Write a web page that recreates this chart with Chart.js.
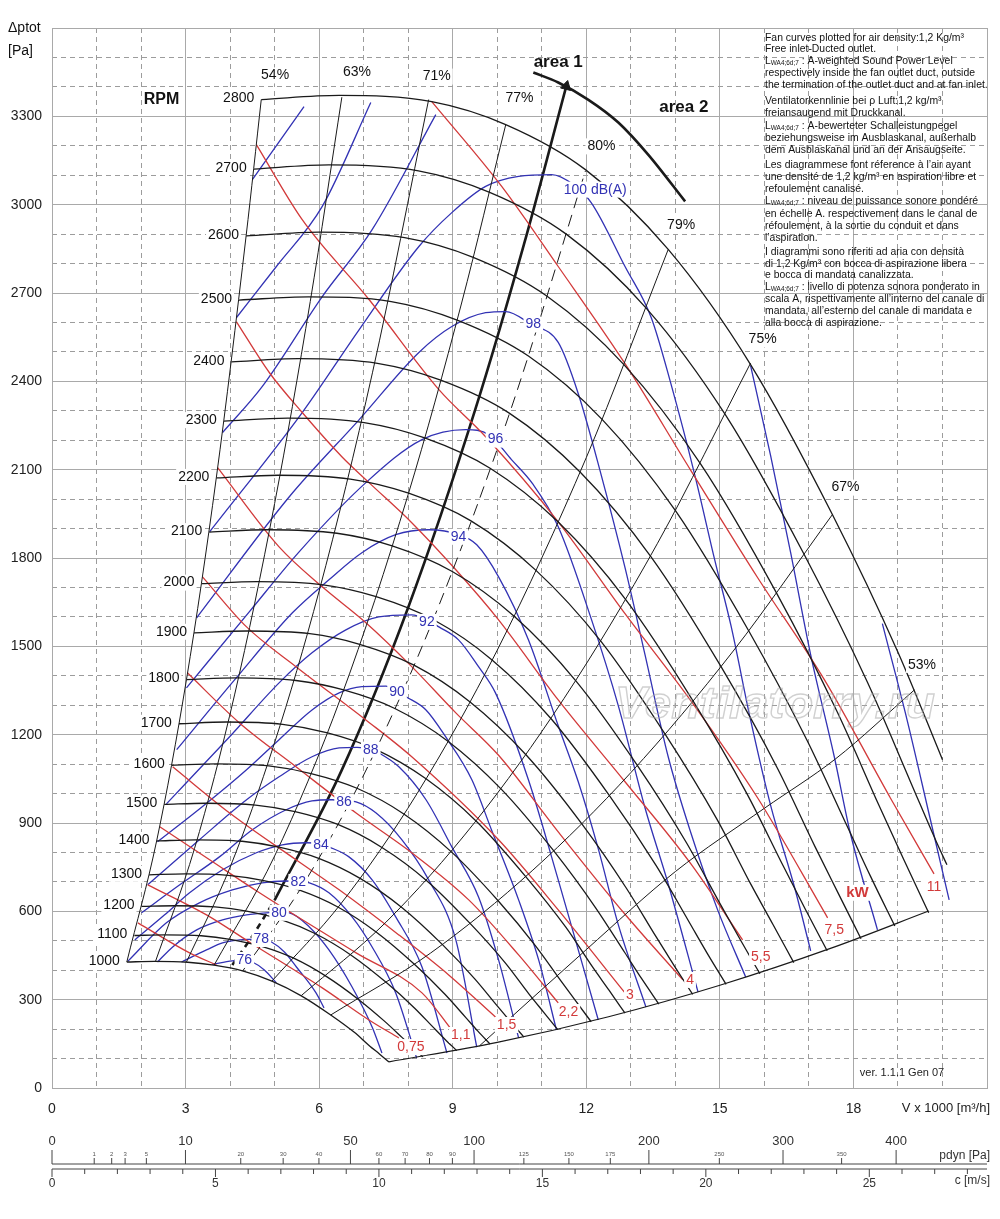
<!DOCTYPE html>
<html><head><meta charset="utf-8">
<script src="https://cdn.jsdelivr.net/npm/chart.js@4.4.1/dist/chart.umd.min.js"></script>
<style>html,body{margin:0;padding:0;background:#fff;}#wrap{width:1000px;height:1219px;position:relative;}</style>
</head><body><div id="wrap"><canvas id="c"></canvas></div>
<script>
// ---------- axis data ----------
const xTickLabels = [0,3,6,9,12,15,18];
const yTickLabels = [0,300,600,900,1200,1500,1800,2100,2400,2700,3000,3300];
const cTickLabels = [0,5,10,15,20,25];
const pdynMajor = [0,10,50,100,200,300,400];
const pdynMinor = [1,2,3,5,20,30,40,60,70,80,90,125,150,175,250,350];

// ---------- RPM curves (V x1000 m3/h, Pa) ----------
const rpmLevels = [1000,1100,1200,1300,1400,1500,1600,1700,1800,1900,2000,2100,2200,2300,2400,2500,2600,2700,2800];
const rpmX = [
 [1.68,2.30,3.05,3.64,4.28,4.94,5.60,6.26,6.79,7.14,7.36,7.57],
 [1.85,2.53,3.35,4.00,4.71,5.44,6.16,6.89,7.46,7.86,8.09,8.33],
 [2.01,2.76,3.66,4.37,5.13,5.93,6.72,7.51,8.14,8.57,8.83,9.09],
 [2.18,2.99,3.96,4.73,5.56,6.43,7.28,8.14,8.82,9.29,9.56,9.84],
 [2.35,3.23,4.27,5.10,5.99,6.92,7.85,8.77,9.50,10.00,10.30,10.60],
 [2.52,3.46,4.57,5.46,6.42,7.41,8.41,9.39,10.18,10.71,11.04,11.36],
 [2.69,3.69,4.87,5.82,6.85,7.91,8.97,10.02,10.86,11.43,11.77,12.11],
 [2.85,3.92,5.18,6.19,7.27,8.40,9.53,10.64,11.54,12.14,12.51,12.87],
 [3.02,4.15,5.48,6.55,7.70,8.90,10.09,11.27,12.21,12.86,13.24,13.63],
 [3.19,4.38,5.79,6.91,8.13,9.39,10.65,11.90,12.89,13.57,13.98,14.39],
 [3.36,4.61,6.09,7.28,8.56,9.89,11.21,12.52,13.57,14.29,14.71,15.14],
 [3.53,4.84,6.40,7.64,8.99,10.38,11.77,13.15,14.25,15.00,15.45,15.90],
 [3.69,5.07,6.70,8.01,9.41,10.87,12.33,13.77,14.93,15.71,16.19,16.66],
 [3.86,5.30,7.01,8.37,9.84,11.37,12.89,14.40,15.61,16.43,16.92,17.41],
 [4.03,5.53,7.31,8.73,10.27,11.86,13.45,15.03,16.29,17.14,17.66,18.17],
 [4.20,5.76,7.62,9.10,10.70,12.36,14.01,15.65,16.96,17.86,18.39,18.93],
 [4.36,5.99,7.92,9.46,11.12,12.85,14.57,16.28,17.64,18.57,19.13,19.69],
 [4.53,6.22,8.23,9.83,11.55,13.35,15.13,16.90,18.32,19.29,19.86,20.10],
 [4.70,6.45,8.53,10.19,11.98,13.84,15.69,17.53,19.00,20.00]
];
const rpmY = [
 [428,430,427,417,398,363,313,248,189,142,115,88],
 [518,520,517,505,481,440,379,300,228,172,139,106],
 [617,619,615,601,573,523,451,358,272,205,165,127],
 [724,727,722,705,672,614,530,420,319,240,194,149],
 [839,843,838,818,780,712,614,487,370,279,225,173],
 [963,967,961,939,895,817,705,559,425,320,258,198],
 [1096,1101,1094,1068,1018,930,802,636,483,364,294,225],
 [1237,1243,1235,1206,1150,1050,906,718,546,411,332,254],
 [1387,1393,1384,1352,1289,1177,1015,805,612,461,372,285],
 [1546,1552,1543,1507,1436,1311,1131,897,681,513,414,318],
 [1713,1720,1709,1669,1591,1453,1254,993,755,569,459,352],
 [1888,1896,1884,1841,1754,1602,1382,1095,833,627,506,388],
 [2072,2081,2068,2020,1926,1758,1517,1202,914,688,556,426],
 [2265,2275,2260,2208,2105,1922,1658,1314,999,752,607,466],
 [2466,2477,2461,2404,2292,2092,1805,1430,1087,819,661,507],
 [2676,2687,2671,2608,2486,2270,1959,1552,1180,889,717,550],
 [2894,2907,2888,2821,2689,2456,2119,1679,1276,961,776,595],
 [3121,3135,3115,3042,2900,2648,2285,1810,1376,1037,837,758],
 [3357,3371,3350,3272,3119,2848,2457,1947,1480,1115]
];

// ---------- efficiency lines ----------
const effNames = ['54%','63%','71%','77%','80%','79%','75%','67%','53%'];
const effX = [
 [1.68,2.35,3.02,3.69,4.36,4.70],
 [2.32,3.2,4.1,5.0,5.8,6.51],
 [3.02,4.0,5.0,6.0,7.2,8.46],
 [3.64,5.0,6.5,8.0,9.2,10.19],
 [4.28,5.6,7.0,8.6,10.3,11.98],
 [4.94,6.5,8.2,10.0,12.0,13.84],
 [5.60,7.5,9.5,11.5,13.6,15.69],
 [6.26,8.5,10.8,13.0,15.3,17.53],
 [9.6,12.0,14.0,16.0,17.6,19.37]
];
const effY = [
 [428,839,1387,2072,2894,3357],
 [428,813,1335,1985,2671,3365],
 [428,750,1173,1688,2431,3357],
 [417,788,1331,2016,2666,3271],
 [397,681,1063,1605,2302,3114],
 [363,628,1000,1487,2141,2848],
 [314,563,903,1323,1850,2462],
 [248,458,740,1071,1484,1948],
 [143,470,735,950,1118,1352]
];
const effLabelX = [5.01,6.85,8.64,10.50,12.34,14.13,15.96,17.82,19.54];
const effLabelY = [3439,3449,3435,3361,3198,2932,2542,2039,1437];

// lower boundary
const boundaryX = [7.57,10.0,12.5,15.0,17.5,19.69];
const boundaryY = [89,155,242,349,475,601];

// area 1 / area 2 line
const areaDashX = [4.05,4.5,5.0];
const areaDashY = [418,516,638];
const areaLineX = [5.0,6.5,8.0,9.5,10.6,11.55];
const areaLineY = [638,1077,1632,2301,2865,3402];
const areaArcX = [10.81,11.37,12.04,12.72,13.39,14.22];
const areaArcY = [3449,3415,3357,3279,3170,3011];

// ---------- sound power curves dB(A) ----------
const dbNames = ['76','78','80','82','84','86','88','90','92','94','96','98','100','102','102','104','104','106'];
const dbX = [
 [3.60,4.05,4.32,4.50,4.77,5.04],
 [2.91,3.47,3.83,4.21,4.43,4.70,4.93,5.22,5.49,5.93,6.11],
 [2.37,2.71,3.25,3.83,4.37,4.81,5.10,5.33,5.78,6.22,6.74,7.19,7.41],
 [1.70,2.57,3.31,4.05,4.72,5.26,5.53,5.78,6.22,6.74,7.19,7.72,8.19],
 [1.86,2.53,3.09,3.83,4.59,5.17,5.71,6.04,6.22,6.67,7.19,7.72,8.31,8.87],
 [2.01,2.87,3.76,4.50,5.26,5.84,6.29,6.56,6.83,7.28,7.86,8.46,9.07,9.54],
 [2.15,3.31,4.37,5.10,5.84,6.45,6.85,7.16,7.34,7.79,8.40,8.98,9.58,10.03,10.48],
 [2.37,3.43,4.37,5.10,5.84,6.45,6.96,7.50,7.72,7.95,8.40,8.84,9.43,9.87,10.48,10.93,11.33],
 [2.57,3.99,5.10,5.84,6.60,7.34,8.08,8.42,8.69,9.13,9.58,9.96,10.70,11.37,11.82,12.27],
 [2.80,4.10,5.40,6.22,6.96,7.72,8.46,9.13,9.54,10.03,10.70,11.37,11.82,12.27,12.72,13.34],
 [3.02,4.43,5.55,7.05,8.31,9.29,9.81,10.32,10.81,11.37,12.11,12.72,13.32,13.84,14.51],
 [3.25,5.33,6.90,8.24,8.98,9.74,10.19,10.77,11.37,11.82,12.34,12.87,13.32,13.84,14.35,14.95,15.58],
 [3.54,5.62,6.90,8.24,8.98,9.74,10.48,11.22,11.71,12.11,12.87,13.46,13.90,14.44,14.89,15.25,15.69,16.14,16.68,17.04],
 [3.83,4.72,6.07,7.19,8.62],
 [15.69,16.14,16.59,17.04,17.57,17.93,18.54],
 [4.14,5.04,6.07,7.16],
 [18.65,19.21,19.72,20.15],
 [4.50,5.66]
];
const dbY = [
 [420,432,435,428,401,357],
 [428,469,493,503,505,506,496,462,411,323,272],
 [428,479,537,571,588,595,597,595,547,469,343,207,119],
 [430,561,629,673,697,703,702,697,663,581,479,323,102],
 [503,588,663,741,799,826,833,830,819,785,707,581,411,119],
 [595,690,785,877,945,975,979,976,972,934,843,707,503,139],
 [690,843,979,1057,1125,1155,1157,1150,1138,1091,979,819,649,435,170],
 [836,962,1081,1183,1284,1342,1363,1365,1350,1329,1284,1193,1047,877,639,435,197],
 [965,1193,1376,1478,1556,1600,1607,1590,1566,1522,1431,1342,1047,707,469,231],
 [1149,1386,1614,1726,1818,1879,1896,1880,1845,1736,1522,1230,1040,812,554,275],
 [1359,1617,1821,2056,2202,2236,2219,2134,2049,1906,1594,1298,951,693,326],
 [1597,2008,2270,2498,2586,2633,2637,2593,2532,2358,2079,1767,1471,1125,866,605,377],
 [1889,2294,2576,2858,2973,3062,3096,3102,3068,3007,2790,2616,2392,2080,1790,1570,1250,960,680,466],
 [2226,2382,2688,2915,3306],
 [2453,2148,1818,1471,1125,866,537],
 [2616,2790,2994,3347],
 [1577,1247,917,639],
 [3085,3333]
];
const dbLabelText = ['76','78','80','82','84','86','88','90','92','94','96','98','100 dB(A)'];
const dbLabelX = [4.32,4.70,5.10,5.53,6.04,6.56,7.16,7.75,8.42,9.13,9.96,10.81,12.20];
const dbLabelY = [435,506,595,700,826,972,1149,1346,1583,1872,2202,2593,3051];

// ---------- absorbed power kW ----------
const kwNames = ['0,55','0,75','1,1','1,5','2,2','3','4','5,5','7,5','11'];
const kwX = [
 [1.93,3.09,3.69],
 [2.15,3.47,4.43,6.07,7.12,7.79],
 [2.42,3.54,4.66,5.55,6.83,8.31,8.98],
 [2.71,3.99,5.48,6.45,7.79,8.91,9.96],
 [3.04,4.21,5.48,6.83,8.08,9.36,10.48,11.37],
 [3.38,4.37,5.48,7.05,8.08,10.03,11.37,12.87],
 [3.72,5.10,6.07,7.05,8.08,9.07,10.03,11.37,12.87,14.17],
 [4.14,4.88,5.62,6.51,7.12,8.08,9.07,10.03,11.37,12.87,14.35,15.51],
 [4.59,5.62,7.12,8.69,9.74,11.37,12.87,14.35,15.85,17.42],
 [8.53,10.10,11.37,12.87,14.35,15.85,17.35,18.83,19.81]
];
const kwY = [
 [561,459,418],
 [690,588,496,340,231,170],
 [887,775,663,578,459,323,197],
 [1091,934,775,673,520,384,241],
 [1410,1240,1091,934,799,639,452,289],
 [1736,1566,1431,1250,1125,843,605,323],
 [2107,1838,1702,1580,1431,1274,1130,870,590,367],
 [2603,2430,2294,2144,2056,1920,1760,1590,1318,1040,761,503],
 [3204,2949,2678,2372,2212,1923,1611,1315,985,578],
 [3350,3062,2790,2460,2097,1733,1386,985,727]
];
const kwLabelText = ['0,75','1,1','1,5','2,2','3','4','5,5','7,5','11'];
const kwLabelX = [8.06,9.18,10.21,11.60,12.98,14.33,15.92,17.57,19.81];
const kwLabelY = [139,180,214,258,316,367,445,537,683];

// ---------- notes ----------
const notes = [
 ['Fan curves plotted for air density:1,2 Kg/m³',38],
 ['Free inlet-Ducted outlet.',49],
 ['L|WA4;6d;7| : A-weighted Sound Power Level',61],
 ['respectively inside the fan outlet duct, outside',73],
 ['the termination of the outlet duct and at fan inlet.',85],
 ['Ventilatorkennlinie bei ρ Luft:1,2 kg/m³',101],
 ['freiansaugend mit Druckkanal.',113],
 ['L|WA4;6d;7| : A-bewerteter Schalleistungpegel',126],
 ['beziehungsweise im Ausblaskanal, außerhalb',138],
 ['dem Ausblaskanal und an der Ansaugseite.',150],
 ['Les diagrammese font réference à l’air ayant',165],
 ['une densité de 1,2 kg/m³ en aspiration libre et',177],
 ['refoulement canalisé.',189],
 ['L|WA4;6d;7| : niveau de puissance sonore pondéré',201],
 ['en échelle A. respectivement dans le canal de',214],
 ['réfoulement, à la sortie du conduit et dans',226],
 ['l’aspiration.',238],
 ['I diagrammi sono riferiti ad aria con densità',252],
 ['di 1,2 Kg/m³ con bocca di aspirazione libera',264],
 ['e bocca di mandata canalizzata.',275],
 ['L|WA4;6d;7| : livello di potenza sonora ponderato in',287],
 ['scala A, rispettivamente all’interno del canale di',299],
 ['mandata, all’esterno del canale di mandata e',311],
 ['alla bocca di aspirazione.',323]
];

// ---------- styling ----------
const BLACK = '#1a1a1a', BLUE = '#3232b4', RED = '#d23a3a';
const FONT = '"Liberation Sans", Arial, Helvetica, sans-serif';
Chart.defaults.font.family = FONT;

function pts(xs, ys){ return xs.map((x,i)=>({x:x, y:ys[i]})); }
const datasets = [];
function line(xs, ys, color, width, dash){
  datasets.push({data: pts(xs,ys), borderColor: color, borderWidth: width, borderDash: dash||[], pointRadius:0, fill:false, cubicInterpolationMode:'monotone', showLine:true});
}
effNames.forEach((n,i)=> line(effX[i], effY[i], BLACK, 1.0, n==='80%'?[12,7]:[]));
rpmLevels.forEach((n,i)=> line(rpmX[i], rpmY[i], BLACK, 1.3));
line(boundaryX, boundaryY, BLACK, 1.2);
kwNames.forEach((n,i)=> line(kwX[i], kwY[i], RED, 1.3));
dbNames.forEach((n,i)=> line(dbX[i], dbY[i], BLUE, 1.3));
line(areaDashX, areaDashY, BLACK, 2.6, [6,5]);
line(areaLineX, areaLineY, BLACK, 2.6);
line(areaArcX, areaArcY, BLACK, 2.6);
datasets.push({data:[{x:areaLineX[areaLineX.length-1], y:areaLineY[areaLineY.length-1]}], showLine:false, pointStyle:'triangle', pointRadius:6, rotation:14, backgroundColor:BLACK, borderColor:BLACK, borderWidth:1});

function drawText(ctx, s, x, y, o){
  ctx.save();
  ctx.font = o.font; ctx.textAlign = o.align||'center'; ctx.textBaseline='middle';
  if (o.bg){
    const w = ctx.measureText(s).width;
    const lx = o.align==='left' ? x : (o.align==='right' ? x-w : x-w/2);
    ctx.fillStyle='#fff'; ctx.fillRect(lx-2, y-8, w+4, 16);
  }
  ctx.fillStyle = o.color||'#111';
  ctx.fillText(s, x, y);
  ctx.restore();
}

const labelPlugin = {
  id:'labels',
  afterDatasetsDraw(chart){
    const ctx = chart.ctx, sx = chart.scales.x, sy = chart.scales.y;
    const X = v=>sx.getPixelForValue(v), Y = v=>sy.getPixelForValue(v);
    // watermark
    ctx.save();
    ctx.font = 'italic bold 44px ' + FONT;
    const wm = 'Ventilatorry.ru';
    const ww = ctx.measureText(wm).width;
    ctx.translate(775, 706); ctx.scale(320/ww, 1);
    ctx.textAlign='center'; ctx.textBaseline='middle';
    ctx.strokeStyle='rgba(170,170,170,0.55)'; ctx.lineWidth=1.3;
    ctx.strokeText(wm, 0, 0);
    ctx.restore();
    // dB labels
    dbLabelText.forEach((t,i)=> drawText(ctx, t, X(dbLabelX[i]), Y(dbLabelY[i]), {font:'14px '+FONT, color:BLUE, bg:true}));
    // kW labels
    kwLabelText.forEach((t,i)=> drawText(ctx, t, X(kwLabelX[i]), Y(kwLabelY[i]), {font:'14px '+FONT, color:RED, bg:true}));
    drawText(ctx, 'kW', X(18.09), Y(663), {font:'bold 15px '+FONT, color:RED, bg:true});
    // efficiency labels
    effNames.forEach((t,i)=> drawText(ctx, t, X(effLabelX[i]), Y(effLabelY[i]), {font:'14px '+FONT, color:'#111', bg:true}));
    // rpm labels
    rpmLevels.forEach((n,i)=> drawText(ctx, String(n), X(rpmX[i][0])-7, Y(rpmY[i][0])-1, {font:'14px '+FONT, color:'#111', align:'right', bg:true}));
    drawText(ctx, 'RPM', X(2.46), Y(3357), {font:'bold 16px '+FONT, color:'#111'});
    drawText(ctx, 'area 1', X(11.37), Y(3483), {font:'bold 17px '+FONT, color:'#111'});
    drawText(ctx, 'area 2', X(14.19), Y(3330), {font:'bold 17px '+FONT, color:'#111'});
  },
  afterDraw(chart){
    const ctx = chart.ctx;
    const ca = chart.chartArea;
    // axis titles
    drawText(ctx, 'Δptot', 8, 28, {font:'14px '+FONT, align:'left'});
    drawText(ctx, '[Pa]', 8, 51, {font:'14px '+FONT, align:'left'});
    drawText(ctx, 'V x 1000 [m³/h]', 990, 1108, {font:'13px '+FONT, align:'right', color:'#222'});
    drawText(ctx, 'ver. 1.1.1 Gen 07', 902, 1073, {font:'11px '+FONT, color:'#222'});
    // notes
    ctx.save();
    ctx.font = '10px '+FONT;
    const ref = ctx.measureText('the termination of the outlet duct and at fan inlet.').width;
    const fs = 10*223/ref;
    notes.forEach(([s,y])=>{
      let x = 765;
      ctx.textBaseline='middle'; ctx.textAlign='left'; ctx.fillStyle='#111';
      if (s.startsWith('L|')){
        const parts = s.split('|');
        ctx.font = fs+'px '+FONT; ctx.fillText('L', x, y); x += ctx.measureText('L').width;
        ctx.font = (fs*0.62)+'px '+FONT; ctx.fillText(parts[1], x, y+2.5); x += ctx.measureText(parts[1]).width;
        ctx.font = fs+'px '+FONT; ctx.fillText(parts[2], x, y);
      } else {
        ctx.font = fs+'px '+FONT; ctx.fillText(s, x, y);
      }
    });
    ctx.restore();
    // lower scales: dynamic pressure and outlet velocity
    const sc = chart.scales.xc;
    const CX = c => sc ? sc.getPixelForValue(c) : ca.left + c/28.6*(ca.right-ca.left);
    const pToC = p => Math.sqrt(p/0.6);
    ctx.save();
    ctx.strokeStyle='#444'; ctx.lineWidth=1;
    const yp = 1164, yc = 1169;
    ctx.beginPath(); ctx.moveTo(CX(0), yp); ctx.lineTo(ca.right, yp); ctx.stroke();
    ctx.beginPath(); ctx.moveTo(CX(0), yc); ctx.lineTo(ca.right, yc); ctx.stroke();
    pdynMajor.forEach(p=>{ const x=CX(pToC(p)); ctx.beginPath(); ctx.moveTo(x,yp-14); ctx.lineTo(x,yp); ctx.stroke();
      drawText(ctx, String(p), x, 1141, {font:'13px '+FONT, color:'#333'}); });
    pdynMinor.forEach(p=>{ const x=CX(pToC(p)); ctx.beginPath(); ctx.moveTo(x,yp-6); ctx.lineTo(x,yp); ctx.stroke();
      drawText(ctx, String(p), x, yp-10, {font:'6px '+FONT, color:'#555'}); });
    for (let c=0; c<=28; c++){ const x=CX(c); const big = c%5===0; ctx.beginPath(); ctx.moveTo(x,yc); ctx.lineTo(x,yc+(big?8:5)); ctx.stroke(); }
    cTickLabels.forEach(c=> drawText(ctx, String(c), CX(c), 1184, {font:'12px '+FONT, color:'#333'}));
    drawText(ctx, 'pdyn [Pa]', 990, 1156, {font:'12px '+FONT, align:'right', color:'#333'});
    drawText(ctx, 'c [m/s]', 990, 1181, {font:'12px '+FONT, align:'right', color:'#333'});
    ctx.restore();
  }
};

const SOLID = '#a9a9a9', DASH = '#9c9c9c';
new Chart(document.getElementById('c'), {
  type:'line',
  data:{datasets: datasets},
  plugins:[labelPlugin],
  options:{
    responsive:true, maintainAspectRatio:false, animation:false, parsing:true,
    layout:{padding:{top:28, right:10, left:0, bottom:0}},
    plugins:{legend:{display:false}, tooltip:{enabled:false}},
    elements:{line:{capBezierPoints:false}},
    scales:{
      x:{type:'linear', min:0, max:21, position:'bottom',
         afterBuildTicks: s=>{ s.ticks = xTickLabels.concat([21]).map(v=>({value:v})); },
         ticks:{autoSkip:false, padding:13, color:'#222', font:{size:14}, maxRotation:0,
           callback:(v)=> xTickLabels.includes(v) ? String(v) : ''},
         grid:{color:SOLID, lineWidth:1, drawTicks:false}, border:{color:SOLID},
         afterFit: s=>{ s.height = 131; }},
      x2:{type:'linear', min:0, max:21, position:'bottom',
         ticks:{stepSize:1, autoSkip:false, display:false},
         grid:{drawTicks:false, lineWidth:1, color:(c)=> (c.tick && c.tick.value%3===0) ? 'rgba(0,0,0,0)' : DASH},
         border:{display:false, dash:[5,4]}, afterFit: s=>{ s.height = 0; }},
      xc:{type:'linear', min:0, max:28.6, display:false},
      y:{type:'linear', min:0, max:3600, position:'left',
         afterBuildTicks: s=>{ s.ticks = yTickLabels.concat([3600]).map(v=>({value:v})); },
         ticks:{autoSkip:false, padding:10, color:'#222', font:{size:14},
           callback:(v)=> yTickLabels.includes(v) ? String(v) : ''},
         grid:{color:SOLID, lineWidth:1, drawTicks:false}, border:{color:SOLID},
         afterFit: s=>{ s.width = 52; }},
      y2:{type:'linear', min:0, max:3600, position:'left',
         ticks:{stepSize:100, autoSkip:false, display:false},
         grid:{drawTicks:false, lineWidth:1, color:(c)=> (c.tick && c.tick.value%300===0) ? 'rgba(0,0,0,0)' : DASH},
         border:{display:false, dash:[5,4]}, afterFit: s=>{ s.width = 0; }}
    }
  }
});
</script></body></html>
